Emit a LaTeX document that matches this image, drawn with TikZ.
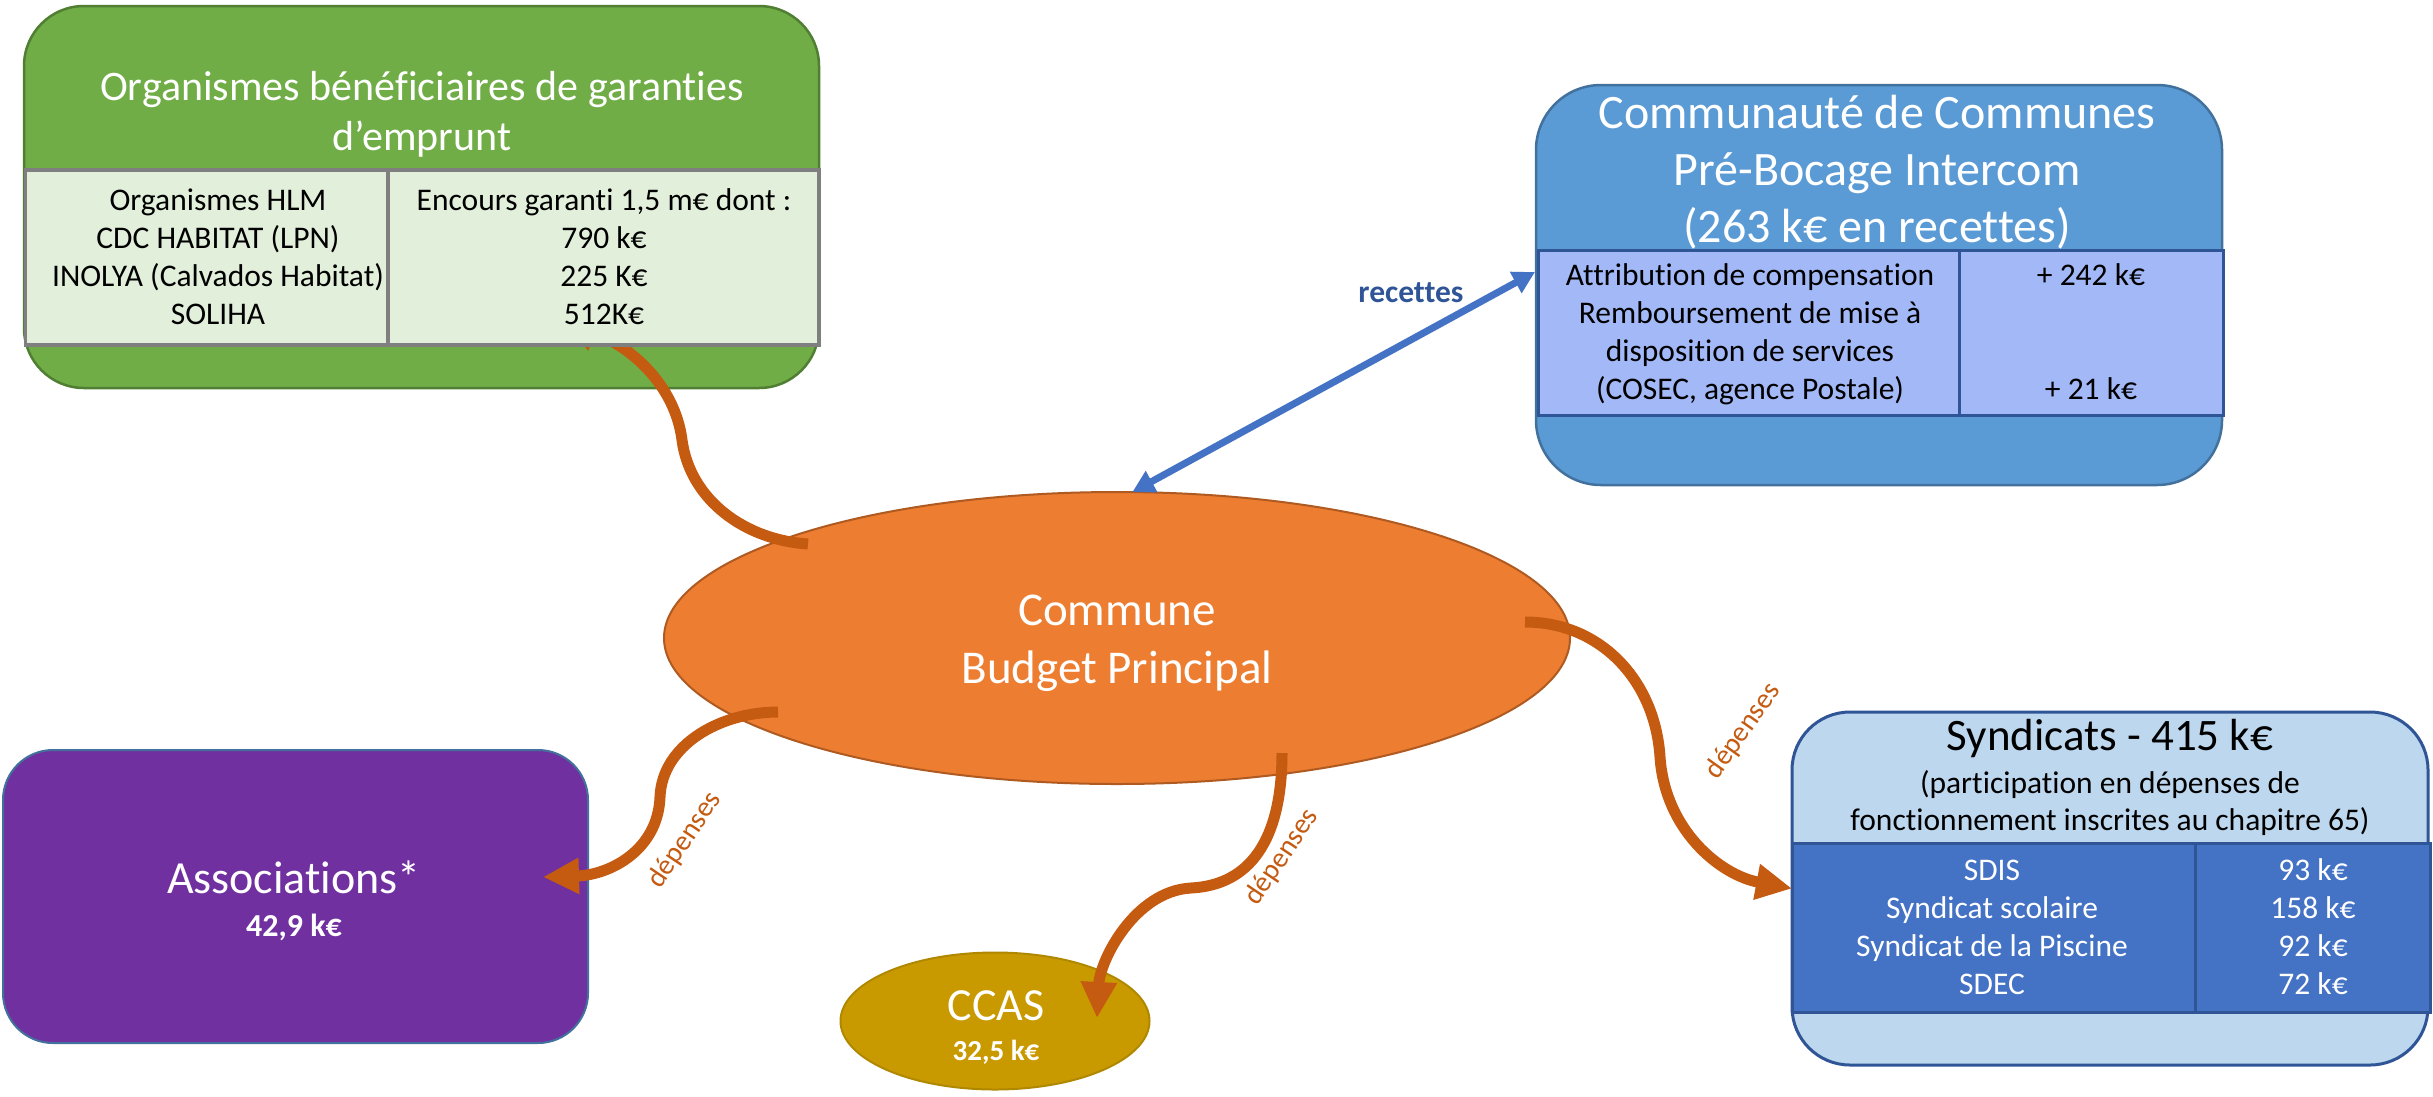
\documentclass[tikz,border=0pt]{standalone}
\usepackage{fontspec}
\setmainfont{Carlito}[Ligatures={NoCommon,NoContextual}]
\usetikzlibrary{shapes.geometric,arrows.meta}
\definecolor{grn}{HTML}{70AD47}
\definecolor{grnb}{HTML}{507E32}
\definecolor{grnt}{HTML}{E2EFDA}
\definecolor{tgray}{HTML}{7F7F7F}
\definecolor{cblue}{HTML}{5B9BD5}
\definecolor{cblueb}{HTML}{41719C}
\definecolor{peri}{HTML}{A3B8F7}
\definecolor{dblue}{HTML}{2F5597}
\definecolor{sblue}{HTML}{BDD7EE}
\definecolor{mblue}{HTML}{4472C4}
\definecolor{purp}{HTML}{7030A0}
\definecolor{orng}{HTML}{ED7D31}
\definecolor{orngb}{HTML}{AE5A21}
\definecolor{ccasfill}{HTML}{C99A00}
\definecolor{ccasb}{HTML}{B08800}
\definecolor{arr}{HTML}{C55A11}
\newcommand{\fsz}[2]{\fontsize{#1}{#2}\selectfont}
\newcommand{\mlines}[1]{\begin{tabular}[t]{@{}c@{}}#1\end{tabular}}
\begin{document}
\begin{tikzpicture}[x=1pt,y=-1pt,
  every node/.style={inner sep=0pt,outer sep=0pt},
  shapebox/.style={rectangle,line width=2.5pt},
  cellbox/.style={rectangle,line width=3pt},
  txt/.style={anchor=base,inner sep=0pt},
  tabtxt/.style={txt,font=\fsz{31.5}{38.3}},
  flow/.style={draw=arr,line width=11pt,-{Triangle[length=36pt,width=34pt]}},
  recflow/.style={draw=mblue,line width=7pt,{Triangle[length=22pt,width=23pt]}-{Triangle[length=22pt,width=23pt]}},
  lab/.style={text=arr,font=\fsz{28.5}{34}}]
\fill[white] (0,0) rectangle (2433,1096);
\useasboundingbox (0,0) rectangle (2433,1096);

% ---------- shapes ----------
\node[shapebox,fill=grn,draw=grnb,rounded corners=60pt,minimum width=795pt,minimum height=382pt] (org) at (421.5,197) {};
\node[txt,text=white,font=\fsz{42}{50}] (orgtitle) at (422,100) {\mlines{Organismes bénéficiaires de garanties\\d’emprunt}};

\node[shapebox,fill=cblue,draw=cblueb,rounded corners=65pt,minimum width=686pt,minimum height=400pt] (cdc) at (1879,285) {};
\node[txt,text=white,font=\fsz{48}{57}] (cdctitle) at (1877,128) {\mlines{Communauté de Communes\\Pré-Bocage Intercom\\(263 k€ en recettes)}};

\node[shapebox,fill=sblue,draw=dblue,line width=3pt,rounded corners=58pt,minimum width=636pt,minimum height=353pt] (synd) at (2110,888.5) {};
\node[txt,font=\fsz{45}{50}] (syndtitle) at (2110,750) {Syndicats - 415 k€};
\node[txt,font=\fsz{31.5}{37}] (syndsub) at (2110,793) {\mlines{(participation en dépenses de\\fonctionnement inscrites au chapitre 65)}};

\node[shapebox,fill=purp,draw=cblueb,line width=2pt,rounded corners=50pt,minimum width=585pt,minimum height=293pt] (assoc) at (295.5,896.5) {};
\node[txt,text=white,font=\fsz{46}{50}] (assoct) at (294,893) {Associations*};
\node[txt,text=white,font=\bfseries\fsz{32}{36}] (assocv) at (294,936) {42,9 k€};

\node[ellipse,fill=orng,draw=orngb,line width=2pt,minimum width=906pt,minimum height=292pt] (commune) at (1117,638) {};
\node[txt,text=white,font=\fsz{47}{58}] (communet) at (1117,625) {\mlines{Commune\\Budget Principal}};

\node[ellipse,fill=ccasfill,draw=ccasb,line width=2pt,minimum width=309pt,minimum height=137pt] (ccas) at (995,1021) {};
\node[txt,text=white,font=\fsz{46}{50}] (ccast) at (996,1020) {CCAS};
\node[txt,text=white,font=\bfseries\fsz{29}{34}] (ccasv) at (996,1060) {32,5 k€};

% ---------- arrow to the green box (partly under its table) ----------
\coordinate (gA) at (808,544);
\coordinate (gM) at (682,440);
\coordinate (gB) at (560,322);
\draw[flow] (gA) .. controls (745,540) and (690,500) .. (gM) .. controls (675,385) and (630,345) .. (gB);

% ---------- tables ----------
\node[cellbox,fill=grnt,draw=tgray,line width=3.5pt,minimum width=362.5pt,minimum height=175pt] (orgL) at (206.75,257.5) {};
\node[cellbox,fill=grnt,draw=tgray,line width=3.5pt,minimum width=431pt,minimum height=175pt] (orgR) at (603.5,257.5) {};
\node[tabtxt] (orgLt) at (218,210) {\mlines{Organismes HLM\\CDC HABITAT (LPN)\\INOLYA (Calvados Habitat)\\SOLIHA}};
\node[tabtxt] (orgRt) at (604,210) {\mlines{Encours garanti 1,5 m€ dont :\\790 k€\\225 K€\\512K€}};

\node[cellbox,fill=peri,draw=dblue,minimum width=421pt,minimum height=165pt] (cdcL) at (1748.5,332.5) {};
\node[cellbox,fill=peri,draw=dblue,minimum width=264pt,minimum height=165pt] (cdcR) at (2091,332.5) {};
\node[tabtxt] (cdcLt) at (1750,285) {\mlines{Attribution de compensation\\Remboursement de mise à\\disposition de services\\(COSEC, agence Postale)}};
\node[tabtxt] (cdcRt) at (2091,285) {\mlines{+ 242 k€\\ \\ \\+ 21 k€}};

\node[cellbox,fill=mblue,draw=dblue,minimum width=402.5pt,minimum height=169pt] (syndL) at (1993.75,927.5) {};
\node[cellbox,fill=mblue,draw=dblue,minimum width=235pt,minimum height=169pt] (syndR) at (2312.5,927.5) {};
\node[tabtxt,text=white] (syndLt) at (1992,880) {\mlines{SDIS\\Syndicat scolaire\\Syndicat de la Piscine\\SDEC}};
\node[tabtxt,text=white] (syndRt) at (2313,880) {\mlines{93 k€\\158 k€\\92 k€\\72 k€}};

% ---------- other connectors ----------
\coordinate (aS) at (778,712);
\coordinate (aM) at (660,797);
\coordinate (aE) at (543,877);
\draw[flow] (aS) .. controls (720,712) and (662,745) .. (aM) .. controls (658,850) and (610,875) .. (aE);

\coordinate (cS) at (1282,753);
\coordinate (cM) at (1191,888);
\coordinate (cE) at (1097,1018);
\draw[flow] (cS) .. controls (1282,840) and (1250,885) .. (cM) .. controls (1135,891) and (1100,960) .. (cE);

\coordinate (sS) at (1525,622);
\coordinate (sM) at (1660,757);
\draw[flow] (sS) .. controls (1600,622) and (1655,680) .. (sM) .. controls (1665,830) and (1720,875) .. (synd.west);

\coordinate (rB) at (1535,272);
\draw[recflow] (commune.84) -- (rB);

% ---------- labels ----------
\node[txt,text=dblue,font=\bfseries\fsz{31.5}{36}] (rec) at (1411,302) {recettes};
\node[lab,rotate=56] (dep1) at (685,840) {dépenses};
\node[lab,rotate=56] (dep2) at (1282,857) {dépenses};
\node[lab,rotate=54.5] (dep3) at (1743,731) {dépenses};
\end{tikzpicture}
\end{document}
